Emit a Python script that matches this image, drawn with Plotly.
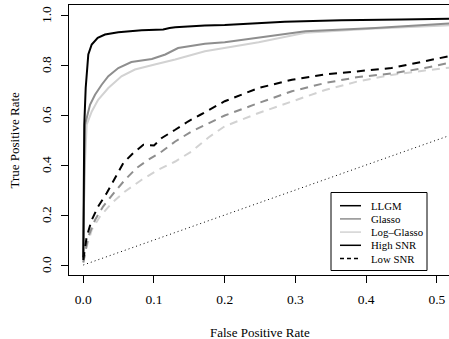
import plotly.graph_objects as go

# ---- data (False Positive Rate, True Positive Rate) ----
llgm_high_fpr = [0, 0.0005, 0.0014, 0.0034, 0.0071, 0.0119, 0.0204, 0.0307, 0.0495, 0.0826, 0.113, 0.122, 0.130, 0.172, 0.2, 0.285, 0.365, 0.45, 0.52]
llgm_high_tpr = [0.03, 0.30, 0.561, 0.708, 0.842, 0.882, 0.909, 0.922, 0.931, 0.939, 0.942, 0.948, 0.951, 0.958, 0.960, 0.973, 0.979, 0.982, 0.985]

glasso_high_fpr = [0, 0.0010, 0.0024, 0.0095, 0.0166, 0.026, 0.0354, 0.0495, 0.068, 0.097, 0.116, 0.134, 0.172, 0.2, 0.248, 0.314, 0.413, 0.512, 0.52]
glasso_high_tpr = [0.02, 0.35, 0.56, 0.641, 0.681, 0.721, 0.755, 0.788, 0.812, 0.824, 0.842, 0.868, 0.885, 0.891, 0.909, 0.935, 0.948, 0.965, 0.966]

logglasso_high_fpr = [0, 0.0015, 0.0048, 0.012, 0.021, 0.0354, 0.054, 0.073, 0.101, 0.130, 0.172, 0.2, 0.248, 0.314, 0.413, 0.512, 0.52]
logglasso_high_tpr = [0.02, 0.35, 0.561, 0.614, 0.661, 0.708, 0.755, 0.782, 0.802, 0.822, 0.855, 0.868, 0.891, 0.929, 0.946, 0.958, 0.959]

llgm_low_fpr = [0, 0.0048, 0.0119, 0.021, 0.033, 0.045, 0.0566, 0.0707, 0.085, 0.100, 0.111, 0.130, 0.148, 0.165, 0.191, 0.2, 0.248, 0.295, 0.342, 0.389, 0.436, 0.483, 0.52]
llgm_low_tpr = [0.02, 0.113, 0.180, 0.234, 0.287, 0.347, 0.408, 0.448, 0.481, 0.478, 0.508, 0.541, 0.574, 0.600, 0.640, 0.655, 0.708, 0.741, 0.762, 0.775, 0.788, 0.815, 0.837]

glasso_low_fpr = [0, 0.0024, 0.007, 0.0166, 0.028, 0.045, 0.059, 0.0755, 0.092, 0.111, 0.130, 0.153, 0.182, 0.2, 0.248, 0.295, 0.342, 0.389, 0.436, 0.483, 0.52]
glasso_low_tpr = [0.01, 0.047, 0.113, 0.180, 0.234, 0.294, 0.341, 0.388, 0.421, 0.454, 0.494, 0.534, 0.572, 0.598, 0.648, 0.695, 0.728, 0.752, 0.766, 0.788, 0.81]

logglasso_low_fpr = [0, 0.0048, 0.0119, 0.0236, 0.040, 0.059, 0.0826, 0.106, 0.130, 0.153, 0.177, 0.2, 0.248, 0.295, 0.342, 0.389, 0.436, 0.483, 0.52]
logglasso_low_tpr = [0.01, 0.073, 0.140, 0.194, 0.247, 0.294, 0.341, 0.381, 0.414, 0.454, 0.51, 0.555, 0.608, 0.655, 0.70, 0.735, 0.76, 0.778, 0.79]

chance_fpr = [0, 0.52]
chance_tpr = [0, 0.52]

x_ticks = [0.0, 0.1, 0.2, 0.3, 0.4, 0.5]
y_ticks = [0.0, 0.2, 0.4, 0.6, 0.8, 1.0]
y_tick_labels = ["0.0", "0.2", "0.4", "0.6", "0.8", "1.0"]

legend_labels = ["LLGM", "Glasso", "Log\u2013Glasso", "High SNR", "Low SNR"]
legend_colors = ["#000000", "#8e8e8e", "#d2d2d2", "#000000", "#000000"]
legend_dashes = ["solid", "solid", "solid", "solid", "4px,3px"]

x_title = "False Positive Rate"
y_title = "True Positive Rate"

BLACK, GREY, LIGHT = "#000000", "#8e8e8e", "#d2d2d2"
DASH = "8px,6px"
FONT = "Liberation Serif"

fig = go.Figure()

curves = [
    (llgm_high_fpr, llgm_high_tpr, BLACK, "solid"),
    (glasso_high_fpr, glasso_high_tpr, GREY, "solid"),
    (logglasso_high_fpr, logglasso_high_tpr, LIGHT, "solid"),
    (logglasso_low_fpr, logglasso_low_tpr, LIGHT, DASH),
    (glasso_low_fpr, glasso_low_tpr, GREY, DASH),
    (llgm_low_fpr, llgm_low_tpr, BLACK, DASH),
]
order = [2, 1, 0, 3, 4, 5]
for i in order:
    fx, fy, col, dash = curves[i]
    fig.add_trace(go.Scatter(x=fx, y=fy, mode="lines",
                             line=dict(color=col, width=2, dash=dash),
                             showlegend=False, hoverinfo="skip"))

fig.add_trace(go.Scatter(x=chance_fpr, y=chance_tpr, mode="lines",
                         line=dict(color="#000000", width=1, dash="1px,3px"),
                         showlegend=False, hoverinfo="skip"))

W, H = 449, 339
L, R, T, B = 69, 0, 5, 64
pw, ph = W - L - R, H - T - B

def px_x(p):
    return (p - L) / pw

def px_y(p):
    return (H - B - p) / ph

shapes = [dict(type="rect", xref="paper", yref="paper",
               x0=px_x(331), x1=px_x(427), y0=px_y(270.5), y1=px_y(192.5),
               line=dict(color="#000000", width=1), fillcolor="white", layer="above")]
annotations = []
row0, dy = 205.7, 13.2
for k, (lab, col, dsh) in enumerate(zip(legend_labels, legend_colors, legend_dashes)):
    yy = row0 + k * dy
    shapes.append(dict(type="line", xref="paper", yref="paper",
                       x0=px_x(340), x1=px_x(361), y0=px_y(yy), y1=px_y(yy),
                       line=dict(color=col, width=1.5, dash=dsh), layer="above"))
    annotations.append(dict(xref="paper", yref="paper", x=px_x(369), y=px_y(yy),
                            text=lab, showarrow=False, xanchor="left", yanchor="middle",
                            font=dict(family=FONT, size=10.8, color="#000000")))

# rotated y tick labels (R style, parallel to axis)
for v, lab in zip(y_ticks, y_tick_labels):
    annotations.append(dict(xref="paper", yref="y", x=px_x(46), y=v,
                            text=lab, showarrow=False, textangle=-90,
                            xanchor="center", yanchor="middle",
                            font=dict(family=FONT, size=13.5, color="#000000")))

annotations.append(dict(xref="paper", yref="paper", x=px_x(260), y=px_y(332),
                        text=x_title, showarrow=False, xanchor="center", yanchor="middle",
                        font=dict(family=FONT, size=13, color="#000000")))
annotations.append(dict(xref="paper", yref="paper", x=px_x(13.5), y=px_y(140),
                        text=y_title, showarrow=False, textangle=-90,
                        xanchor="center", yanchor="middle",
                        font=dict(family=FONT, size=13, color="#000000")))

fig.update_layout(
    width=W, height=H,
    margin=dict(l=L, r=R, t=T, b=B, pad=0),
    paper_bgcolor="white", plot_bgcolor="white",
    font=dict(family=FONT, size=13.3, color="#000000"),
    shapes=shapes, annotations=annotations,
    xaxis=dict(range=[-0.0202, 0.5172], tickvals=x_ticks, tickformat=".1f",
               automargin=False, ticklabelstandoff=5,
               showgrid=False, zeroline=False, showline=True, mirror=True,
               linecolor="#000000", linewidth=1, ticks="outside", ticklen=7,
               tickcolor="#000000", tickwidth=1,
               tickfont=dict(family=FONT, size=13.5)),
    yaxis=dict(range=[-0.04, 1.04], tickvals=y_ticks, showticklabels=False,
               automargin=False,
               showgrid=False, zeroline=False, showline=True, mirror=False,
               linecolor="#000000", linewidth=1, ticks="outside", ticklen=7,
               tickcolor="#000000", tickwidth=1),
)

fig.write_html("out.html", config={"displayModeBar": False},
               post_script="document.body.style.margin='0';document.body.style.padding='0';document.body.style.overflow='hidden';")
